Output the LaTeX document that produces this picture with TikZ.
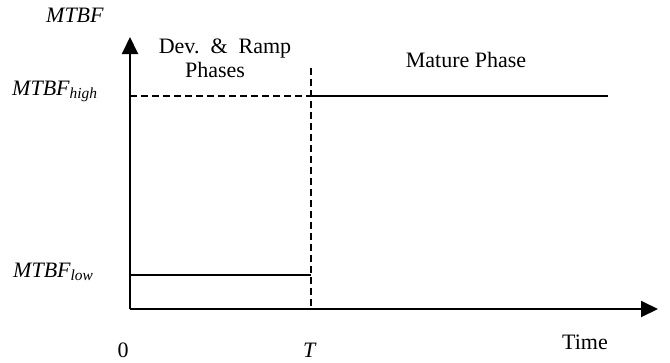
\documentclass[tikz,border=0pt]{standalone}
\usepackage{fontspec}
\setmainfont{Liberation Serif}
\usetikzlibrary{arrows.meta}
\tikzset{
  axis/.style={line width=2pt, -{Triangle[length=17pt,width=16pt]}},
  level/.style={line width=2.2pt},
  guide/.style={line width=1.4pt, dash pattern=on 7pt off 4pt},
  lbl/.style={font=\fontsize{22}{26}\selectfont, inner sep=0pt, anchor=base},
}
\begin{document}
\begin{tikzpicture}[x=1pt, y=-1pt]
  \useasboundingbox (0,0) rectangle (670,362);

  % Axes
  \coordinate (o) at (130,309);
  \coordinate (ytip) at (130,37);
  \coordinate (xtip) at (658,309);
  \draw[axis] (o) -- (ytip);
  \draw[axis] (o) -- (xtip);

  % Switch time T
  \coordinate (Ttop) at (311,68);
  \coordinate (Tbot) at (311,309);
  \draw[guide] (Ttop) -- (Tbot);

  % MTBF levels
  \coordinate (hi0) at (130,96);
  \coordinate (hiT) at (311,96);
  \coordinate (hiend) at (608,96);
  \coordinate (lo0) at (130,275);
  \coordinate (loT) at (311,275);
  \draw[guide] (hi0) -- (hiT);
  \draw[level] (hiT) -- (hiend);
  \draw[level] (lo0) -- (loT);

  % Labels
  \node[lbl] (ylabel) at (75,22) {\textit{MTBF}};
  \node[lbl, anchor=base west] (high) at (12,95) {\textit{MTBF\textsubscript{high}}};
  \node[lbl, anchor=base west] (low) at (13,277) {\textit{MTBF\textsubscript{low}}};
  \node[lbl] (dev) at (225,53) {Dev.\hspace{0.5em}\&\hspace{0.5em}Ramp};
  \node[lbl] (phases) at (215,77) {Phases};
  \node[lbl] (mature) at (466,67) {Mature Phase};
  \node[lbl] (zero) at (123,357) {0};
  \node[lbl] (tlabel) at (310,357) {\textit{T}};
  \node[lbl] (time) at (585,349) {Time};
\end{tikzpicture}
\end{document}
